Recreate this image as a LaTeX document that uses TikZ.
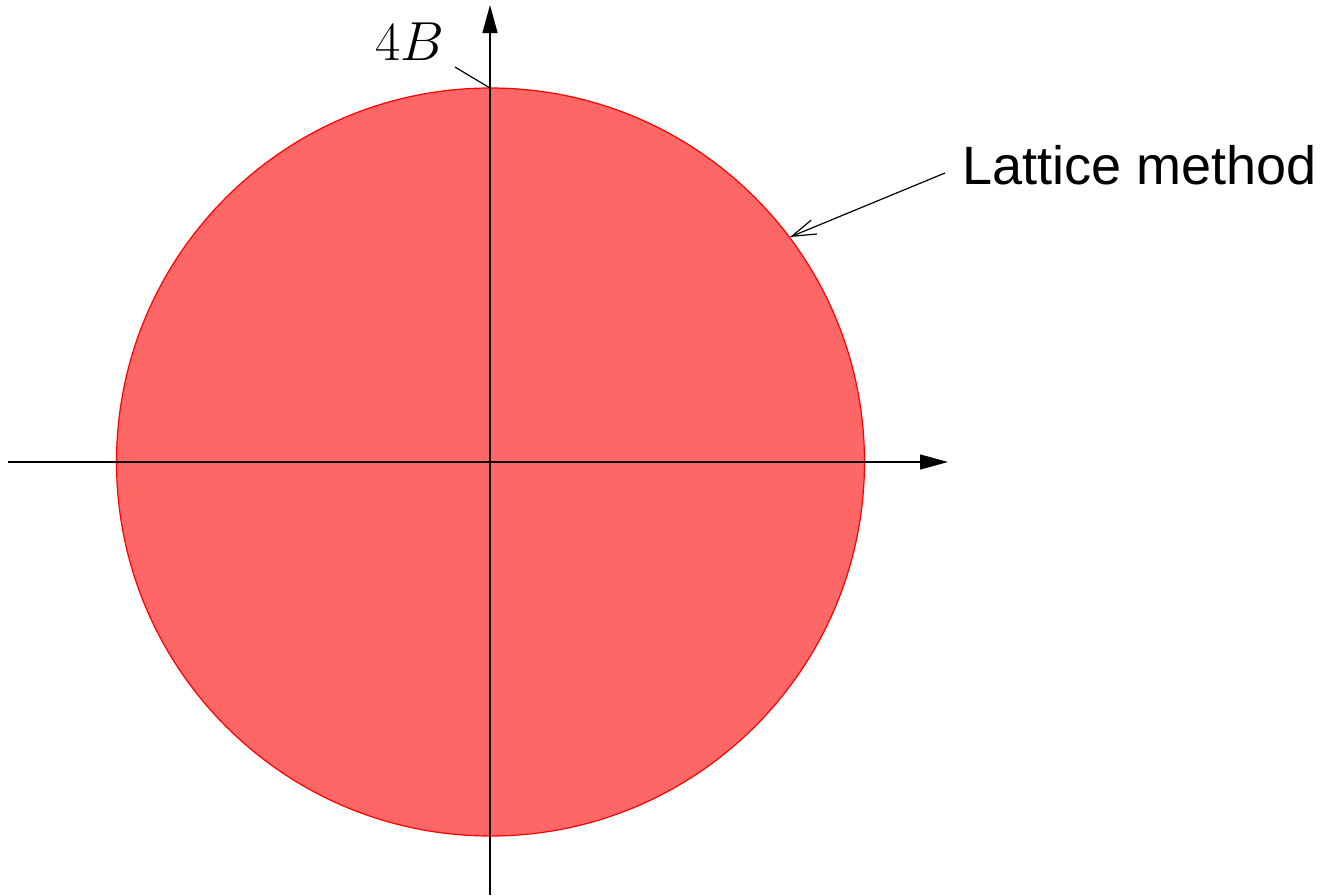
\RequirePackage{fix-cm}
\documentclass[tikz,border=0pt]{standalone}
\usepackage{fontspec}
\newfontfamily\arialfont{Liberation Sans}
\usetikzlibrary{arrows.meta}
\definecolor{disk}{RGB}{255,102,102}
\begin{document}
\begin{tikzpicture}[x=1pt,y=-1pt,
  axis/.style={line width=1.4pt,-{Triangle[length=28pt,width=15pt]}},
  thin/.style={line width=1.2pt},
  lbl/.style={inner sep=0pt,font=\arialfont\fontsize{54}{60}\selectfont},
  mlbl/.style={inner sep=0pt,font=\fontsize{55}{62}\selectfont}]
\useasboundingbox (0,0) rectangle (1322,895);
\coordinate (O) at (490.5,462);
\fill[disk,draw=red,line width=1.2pt] (O) circle (374);
\coordinate (top) at (490,88);
\coordinate (lef) at (8,462);
\coordinate (rig) at (948,462);
\coordinate (bot) at (490,895);
\coordinate (up) at (490,5);
\draw[axis] (lef) -- (rig);
\draw[axis] (bot) -- (up);
\node[mlbl,anchor=base] (B) at (410,60) {$4B$};
\coordinate (Bt) at (455,67);
\draw[thin] (Bt) -- (top);
\node[lbl,anchor=base west] (lat) at (962,184) {Lattice method};
\coordinate (ls) at (945,173);
\coordinate (lp) at (790,237);
\draw[thin,-{Straight Barb[length=24pt,width=15pt]}] (ls) -- (lp);
\end{tikzpicture}
\end{document}
